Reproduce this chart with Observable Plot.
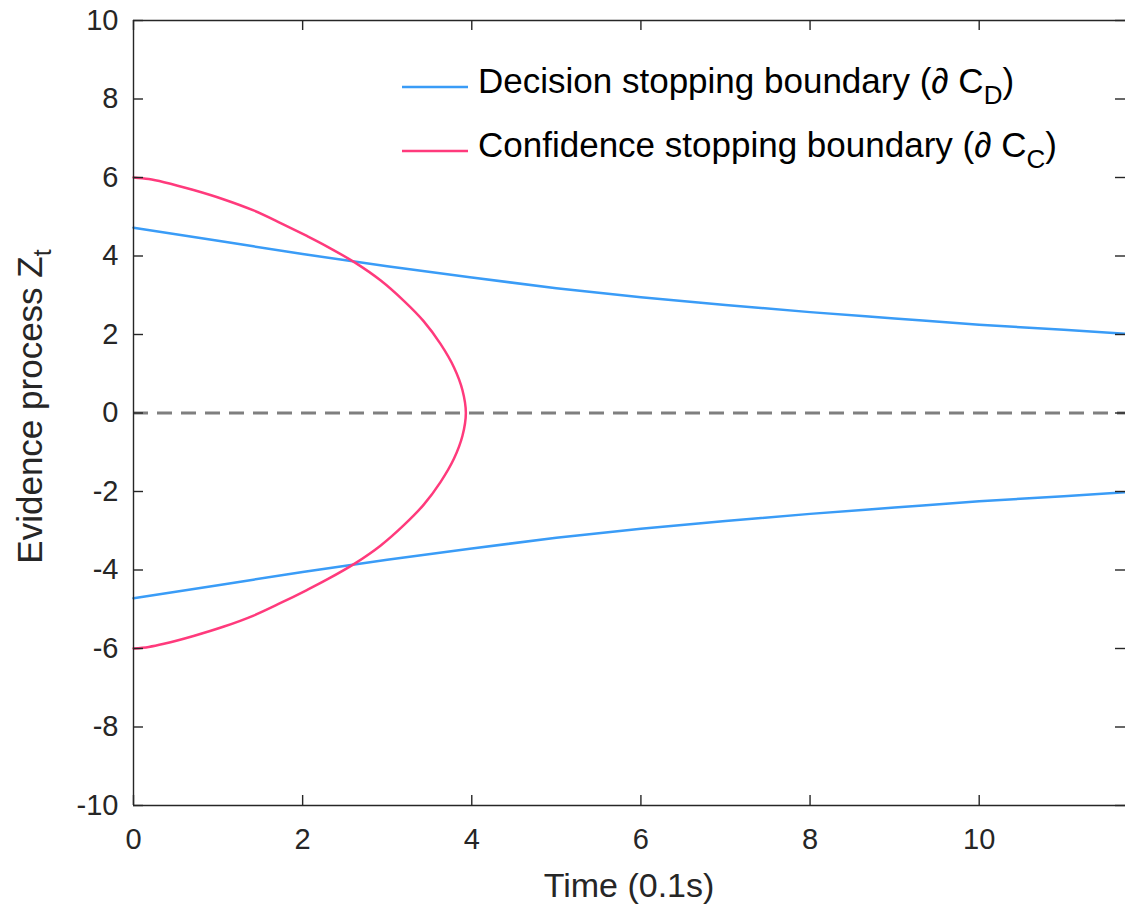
<!DOCTYPE html>
<html><head><meta charset="utf-8">
<script src="https://cdn.jsdelivr.net/npm/d3@7"></script>
<script src="https://cdn.jsdelivr.net/npm/@observablehq/plot@0.6"></script>
<style>body{margin:0;background:#fff;} #chart{width:1125px;height:911px;}</style>
</head><body><div id="chart"></div>
<script>
// ---- data ----
const xTicks = [0, 2, 4, 6, 8, 10];
const yTicks = [-10, -8, -6, -4, -2, 0, 2, 4, 6, 8, 10];
const xDomain = [0, 11.73];
const yDomain = [-10, 10];

// Decision stopping boundary (upper and lower branch)
const decisionT     = [0, 1, 2, 3, 4, 5, 6, 7, 8, 9, 10, 11, 11.73];
const decisionUpper = [4.72, 4.39, 4.05, 3.74, 3.45, 3.18, 2.95, 2.75, 2.57, 2.41, 2.25, 2.12, 2.02];
const decisionLower = [-4.72, -4.39, -4.05, -3.74, -3.45, -3.18, -2.95, -2.75, -2.57, -2.41, -2.25, -2.12, -2.02];

// Confidence stopping boundary (traced from top to bottom)
const confidenceT = [0, 0.18, 0.36, 0.71, 1.07, 1.42, 1.74, 2.05, 2.29, 2.62, 2.92, 3.20, 3.43, 3.63, 3.79, 3.89, 3.93,
                     3.89, 3.79, 3.63, 3.43, 3.20, 2.92, 2.62, 2.29, 2.05, 1.74, 1.42, 1.07, 0.71, 0.36, 0.18, 0];
const confidenceZ = [6.0, 5.96, 5.88, 5.68, 5.44, 5.16, 4.84, 4.51, 4.24, 3.83, 3.38, 2.85, 2.34, 1.76, 1.16, 0.58, 0,
                     -0.58, -1.16, -1.76, -2.34, -2.85, -3.38, -3.83, -4.24, -4.51, -4.84, -5.16, -5.44, -5.68, -5.88, -5.96, -6.0];

const seriesNames = ["Decision stopping boundary (\u2202 C", "Confidence stopping boundary (\u2202 C"];
const seriesSubs = ["D", "C"];
const seriesColors = ["#3a9cf7", "#ff3a7c"];

// ---- build tables ----
const decUp = decisionT.map((t, i) => ({t, z: decisionUpper[i]}));
const decLo = decisionT.map((t, i) => ({t, z: decisionLower[i]}));
const conf = confidenceT.map((t, i) => ({t, z: confidenceZ[i]}));

const W = 1125, H = 911;
const mL = 133, mR = 0, mT = 20, mB = 106;
const pw = W - mL - mR, ph = H - mT - mB;
const axisColor = "#262626";
const tickLen = 10;

const plot = Plot.plot({
  width: W, height: H,
  marginLeft: mL, marginRight: mR, marginTop: mT, marginBottom: mB,
  style: {fontFamily: "'Liberation Sans', Arial, Helvetica, sans-serif", fontSize: "29px", color: axisColor, background: "#fff", overflow: "visible"},
  x: {domain: xDomain, label: null},
  y: {domain: yDomain, label: null},
  marks: [
    Plot.ruleY([0], {stroke: "#7f7f7f", strokeWidth: 3, strokeDasharray: "15,9"}),
    Plot.line(decUp, {x: "t", y: "z", stroke: seriesColors[0], strokeWidth: 2.5, curve: "monotone-x"}),
    Plot.line(decLo, {x: "t", y: "z", stroke: seriesColors[0], strokeWidth: 2.5, curve: "monotone-x"}),
    Plot.line(conf, {x: "t", y: "z", stroke: seriesColors[1], strokeWidth: 2.5, curve: "catmull-rom"}),
    // box
    Plot.ruleX([xDomain[0]], {stroke: axisColor, strokeWidth: 1.4}),
    Plot.ruleY([yDomain[0]], {stroke: axisColor, strokeWidth: 1.4}),
    Plot.ruleY([yDomain[1]], {stroke: axisColor, strokeWidth: 1.4}),
    // inward ticks
    Plot.tickY(yTicks, {stroke: axisColor, strokeWidth: 1.4, insetRight: pw - tickLen}),
    Plot.tickY(yTicks, {stroke: axisColor, strokeWidth: 1.4, insetLeft: pw - tickLen}),
    Plot.tickX(xTicks, {stroke: axisColor, strokeWidth: 1.4, insetTop: ph - tickLen}),
    Plot.tickX(xTicks, {stroke: axisColor, strokeWidth: 1.4, insetBottom: ph - tickLen}),
    // tick labels
    Plot.axisX(xTicks, {tickSize: 0, tickPadding: 23, tickFormat: d => String(d), fill: axisColor, label: null}),
    Plot.axisY(yTicks, {tickSize: 0, tickPadding: 15, tickFormat: d => String(d), fill: axisColor, label: null})
  ]
});

document.getElementById("chart").appendChild(plot);

const svg = d3.select(plot);
const font = "'Liberation Sans', Arial, Helvetica, sans-serif";

// x label
svg.append("text")
  .attr("x", mL + pw / 2).attr("y", 897)
  .attr("text-anchor", "middle")
  .attr("font-family", font).attr("font-size", 34).attr("fill", axisColor)
  .text("Time (0.1s)");

// y label with subscript
const yl = svg.append("text")
  .attr("transform", `translate(42,${mT + ph / 2 - 6}) rotate(-90)`)
  .attr("text-anchor", "middle")
  .attr("font-family", font).attr("font-size", 35).attr("fill", axisColor);
yl.append("tspan").text("Evidence process Z");
yl.append("tspan").attr("font-size", 25).attr("dy", 9).text("t");

// legend
const legendRows = [93, 157];
seriesNames.forEach((name, i) => {
  const by = legendRows[i];
  svg.append("line")
    .attr("x1", 402).attr("x2", 468).attr("y1", by - 6).attr("y2", by - 6)
    .attr("stroke", seriesColors[i]).attr("stroke-width", 2.5);
  const t = svg.append("text")
    .attr("x", 478).attr("y", by)
    .attr("text-anchor", "start")
    .attr("font-family", font).attr("font-size", 35).attr("fill", "#000");
  t.append("tspan").text(name);
  t.append("tspan").attr("font-size", 26).attr("dy", 11).text(seriesSubs[i]);
  t.append("tspan").attr("dy", -11).text(")");
});
</script>
</body></html>
